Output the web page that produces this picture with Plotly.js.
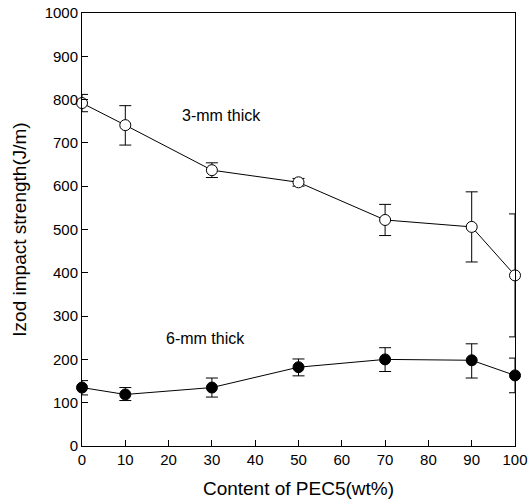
<!DOCTYPE html>
<html>
<head>
<meta charset="utf-8">
<script src="https://cdn.plot.ly/plotly-3.0.1.min.js"></script>
<style>html,body{margin:0;padding:0;background:#fff;}</style>
</head>
<body>
<div id="chart" style="width:529px;height:501px;"></div>
<script>
const content = [0, 10, 30, 50, 70, 90, 100];
const thick3 = [792, 741, 637, 609, 522, 506, 394];
const thick3ErrPlus = [20, 45, 17, 9, 36, 81, 142];
const thick3ErrMinus = [20, 46, 17, 9, 36, 81, 142];
const thick6 = [135, 119, 135, 182, 200, 198, 163];
const thick6ErrPlus = [16, 16, 22, 19, 27, 38, 40];
const thick6ErrMinus = [17, 14, 22, 20, 28, 41, 40];
const xTicks = [0, 10, 20, 30, 40, 50, 60, 70, 80, 90, 100];
const yTicks = [0, 100, 200, 300, 400, 500, 600, 700, 800, 900, 1000];

const font = "Liberation Sans, Arial, sans-serif";

const traces = [
  {
    x: content, y: thick3, type: 'scatter', mode: 'lines+markers',
    line: {color: '#000', width: 1},
    marker: {symbol: 'circle', size: 11, color: '#fff', line: {color: '#000', width: 1}},
    error_y: {type: 'data', symmetric: false, array: thick3ErrPlus, arrayminus: thick3ErrMinus,
              color: '#000', thickness: 1, width: 6},
    cliponaxis: false, showlegend: false
  },
  {
    x: content, y: thick6, type: 'scatter', mode: 'lines+markers',
    line: {color: '#000', width: 1},
    marker: {symbol: 'circle', size: 11, color: '#000', line: {color: '#000', width: 1}},
    error_y: {type: 'data', symmetric: false, array: thick6ErrPlus, arrayminus: thick6ErrMinus,
              color: '#000', thickness: 1, width: 6},
    cliponaxis: false, showlegend: false
  }
];

const layout = {
  width: 529, height: 501,
  margin: {l: 82, r: 14, t: 13, b: 55},
  paper_bgcolor: '#fff', plot_bgcolor: '#fff',
  font: {family: font, color: '#000', size: 15},
  xaxis: {
    range: [0, 100], tickvals: xTicks, ticktext: xTicks.map(String),
    ticks: 'inside', ticklen: 6, tickwidth: 1, tickcolor: '#000',
    showline: true, linecolor: '#000', linewidth: 1, mirror: true,
    showgrid: false, zeroline: false,
    tickfont: {family: font, size: 15, color: '#000'},
    title: {text: 'Content of PEC5(wt%)', font: {family: font, size: 19, color: '#000'}, standoff: 14}
  },
  yaxis: {
    range: [0, 1000], tickvals: yTicks, ticktext: yTicks.map(String),
    ticks: 'inside', ticklen: 6, tickwidth: 1, tickcolor: '#000',
    showline: true, linecolor: '#000', linewidth: 1, mirror: true,
    showgrid: false, zeroline: false,
    tickfont: {family: font, size: 15, color: '#000'},
    title: {text: 'Izod impact strength(J/m)', font: {family: font, size: 19, color: '#000'}, standoff: 12}
  },
  annotations: [
    {x: 32.3, y: 764, xref: 'x', yref: 'y', text: '3-mm thick', showarrow: false,
     xanchor: 'center', yanchor: 'middle', font: {family: font, size: 16, color: '#000'}},
    {x: 28.6, y: 249, xref: 'x', yref: 'y', text: '6-mm thick', showarrow: false,
     xanchor: 'center', yanchor: 'middle', font: {family: font, size: 16, color: '#000'}}
  ]
};

Plotly.newPlot('chart', traces, layout, {displayModeBar: false, staticPlot: true});
</script>
</body>
</html>
